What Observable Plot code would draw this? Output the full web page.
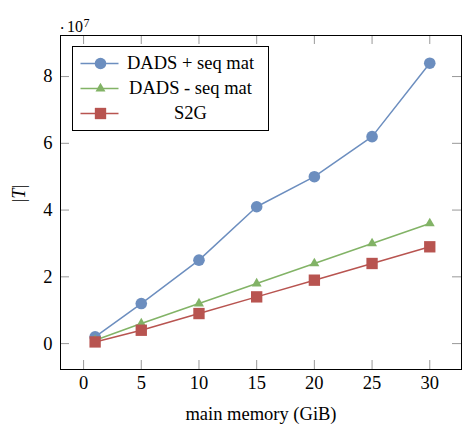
<!DOCTYPE html>
<html>
<head>
<meta charset="utf-8">
<script src="https://cdn.jsdelivr.net/npm/d3@7"></script>
<script src="https://cdn.jsdelivr.net/npm/@observablehq/plot@0.6"></script>
<style>
  html, body { margin: 0; padding: 0; background: white; }
</style>
</head>
<body>
<div id="chart"></div>
<script>
// Data (|T| values in units of 10^7)
const memory = [1, 5, 10, 15, 20, 25, 30];
const dadsSeqMat = [0.2, 1.2, 2.5, 4.1, 5.0, 6.2, 8.4];
const dadsNoSeqMat = [0.1, 0.6, 1.2, 1.8, 2.4, 3.0, 3.6];
const s2g = [0.05, 0.4, 0.9, 1.4, 1.9, 2.4, 2.9];
const seriesNames = ["DADS + seq mat", "DADS - seq mat", "S2G"];
const xTicks = [0, 5, 10, 15, 20, 25, 30];
const yTicks = [0, 2, 4, 6, 8];
const xLabel = "main memory (GiB)";
const yLabel = "|T|";
const scaleDot = "·";
const scaleBase = "10";
const scaleExp = "7";

const colors = ["#6c8ebf", "#82b366", "#b85450"];
const symbols = ["circle", "triangle", "square"];
const radii = [5.8, 3.7, 6.4];

const seriesValues = [dadsSeqMat, dadsNoSeqMat, s2g];
const series = seriesNames.map((name, i) => ({
  name,
  color: colors[i],
  symbol: symbols[i],
  r: radii[i],
  rows: memory.map((m, j) => ({x: m, y: seriesValues[i][j]}))
}));

const W = 462, H = 427;
const mL = 60, mR = 1, mT = 35, mB = 58;
const fw = W - mL - mR, fh = H - mT - mB;
const tickLen = 9;
const tickColor = "#999";
const serif = "'Liberation Serif', 'Times New Roman', serif";

const lineSymbol = {draw(ctx) { ctx.moveTo(-19, 0); ctx.lineTo(19, 0); }};

const marks = [];
// inward ticks on four sides
marks.push(Plot.tickX(xTicks, {x: d => d, insetTop: fh - tickLen, stroke: tickColor}));
marks.push(Plot.tickX(xTicks, {x: d => d, insetBottom: fh - tickLen, stroke: tickColor}));
marks.push(Plot.tickY(yTicks, {y: d => d, insetRight: fw - tickLen, stroke: tickColor}));
marks.push(Plot.tickY(yTicks, {y: d => d, insetLeft: fw - tickLen, stroke: tickColor}));
// axes labels (no tick marks)
marks.push(Plot.axisX(xTicks, {tickSize: 0, tickPadding: 6, label: null, fill: "black"}));
marks.push(Plot.axisY(yTicks, {tickSize: 0, tickPadding: 8, label: null, fill: "black"}));
// series
for (const s of series) {
  marks.push(Plot.line(s.rows, {x: "x", y: "y", stroke: s.color, strokeWidth: 1.5}));
  marks.push(Plot.dot(s.rows, {x: "x", y: "y", symbol: s.symbol, r: s.r, fill: s.color, stroke: "none"}));
}
// frame
marks.push(Plot.frame({stroke: "black", strokeWidth: 1}));
// legend box
marks.push(Plot.frame({insetLeft: 12, insetTop: 11, insetRight: fw - 208, insetBottom: fh - 95, fill: "white", stroke: "black", strokeWidth: 1}));
series.forEach((s, i) => {
  const dy = 28 + i * 25;
  marks.push(Plot.dot([s], {frameAnchor: "top-left", dx: 39, dy, symbol: lineSymbol, fill: "none", stroke: s.color, strokeWidth: 1.5}));
  marks.push(Plot.dot([s], {frameAnchor: "top-left", dx: 40, dy, symbol: s.symbol, r: s.r, fill: s.color, stroke: "none"}));
  marks.push(Plot.text([s.name], {frameAnchor: "top-left", dx: 130, dy, textAnchor: "middle", lineAnchor: "middle", fontFamily: serif, fill: "black"}));
});
// axis titles
marks.push(Plot.text([xLabel], {frameAnchor: "bottom", dy: 45, lineAnchor: "middle", fontFamily: serif, fill: "black"}));
marks.push(Plot.text([yLabel], {frameAnchor: "left", dx: -41, rotate: -90, lineAnchor: "middle", fontFamily: serif, fill: "black", className: "ylab"}));
marks.push(Plot.text([scaleDot], {frameAnchor: "top-left", dx: 1.7, dy: -6.5, textAnchor: "middle", lineAnchor: "middle", fontSize: 16, fontFamily: serif, fill: "black"}));
marks.push(Plot.text([scaleBase], {frameAnchor: "top-left", dx: 6.5, dy: -9.1, textAnchor: "start", lineAnchor: "middle", fontSize: 16, fontFamily: serif, fill: "black"}));
marks.push(Plot.text([scaleExp], {frameAnchor: "top-left", dx: 23, dy: -12.3, textAnchor: "start", lineAnchor: "middle", fontSize: 12, fontFamily: serif, fill: "black"}));

const chart = Plot.plot({
  width: W,
  height: H,
  marginLeft: mL,
  marginRight: mR,
  marginTop: mT,
  marginBottom: mB,
  x: {domain: [-2, 32.75]},
  y: {domain: [-0.776, 9.23]},
  style: {fontFamily: serif, fontSize: "18.5px", background: "white", color: "black"},
  marks
});
document.getElementById("chart").appendChild(chart);

// italic T in |T|
d3.select(chart).selectAll("g.ylab text").each(function() {
  const t = d3.select(this);
  t.text(null);
  t.append("tspan").text("|");
  t.append("tspan").attr("font-style", "italic").text("T");
  t.append("tspan").text("|");
});
</script>
</body>
</html>
